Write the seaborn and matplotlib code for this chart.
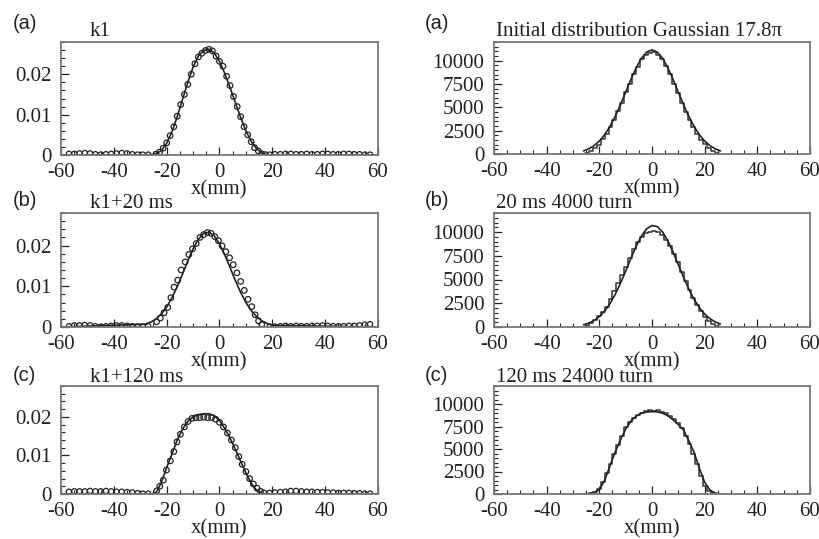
import matplotlib
matplotlib.use("Agg")
import matplotlib.pyplot as plt
import seaborn as sns
from matplotlib.ticker import MultipleLocator

# ---------------- data ----------------
panel_tags = ["(a)", "(b)", "(c)"]
left_titles = ["k1", "k1+20 ms", "k1+120 ms"]
right_titles = ["Initial distribution Gaussian 17.8\u03c0", "20 ms 4000 turn", "120 ms 24000 turn"]

# left column: measured profile (open circles) + fitted curve
L1_x = [-24.0, -22.7, -21.3, -20.0, -18.7, -17.3, -16.0, -14.7, -13.3, -12.0, -10.7, -9.3, -8.0, -6.7, -5.3,
        -4.0, -2.7, -1.3, 0.0, 1.3, 2.7, 4.0, 5.3, 6.7, 8.0, 9.3, 10.7, 12.0, 13.3, 14.7, 16.0, 17.3]
L1_y = [0.0002, 0.0007, 0.0017, 0.0030, 0.0048, 0.0070, 0.0096, 0.0125, 0.0150, 0.0175, 0.0200, 0.0226, 0.0243,
        0.0252, 0.0259, 0.0262, 0.0258, 0.0245, 0.0232, 0.0220, 0.0195, 0.0172, 0.0145, 0.0120, 0.0095, 0.0070,
        0.0050, 0.0033, 0.0018, 0.0010, 0.0003, 0.0001]
L2_x = [-23.8, -22.4, -21.0, -19.6, -18.4, -17.2, -15.8, -14.5, -13.0, -11.6, -10.2, -8.8, -7.4, -6.0, -4.6,
        -3.2, -1.8, -0.4, 1.0, 2.4, 3.8, 5.2, 6.6, 8.0, 9.4, 10.8, 12.2, 13.5, 14.8, 16.0]
L2_y = [0.0013, 0.0022, 0.0035, 0.0048, 0.0072, 0.0098, 0.0115, 0.0140, 0.0160, 0.0178, 0.0192, 0.0205, 0.0220,
        0.0227, 0.0232, 0.0230, 0.0222, 0.0212, 0.0199, 0.0185, 0.0170, 0.0153, 0.0133, 0.0112, 0.0090, 0.0068,
        0.0050, 0.0030, 0.0015, 0.0006]
L3_x = [-23.8, -22.6, -21.3, -20.1, -18.6, -17.3, -16.1, -14.8, -13.3, -11.9, -10.4, -8.9, -7.5, -6.0, -4.5,
        -3.0, -1.5, 0.0, 1.5, 3.0, 4.5, 6.0, 7.3, 8.6, 10.0, 11.4, 12.8, 14.2, 15.5, 16.8]
L3_y = [0.0008, 0.0020, 0.0036, 0.0062, 0.0086, 0.0110, 0.0135, 0.0155, 0.0174, 0.0188, 0.0196, 0.0198, 0.0198,
        0.0199, 0.0198, 0.0198, 0.0194, 0.0186, 0.0174, 0.0158, 0.0140, 0.0120, 0.0097, 0.0077, 0.0058, 0.0040,
        0.0026, 0.0015, 0.0007, 0.0003]

# background (halo) circles
BGL_x = [-57, -55, -53, -51, -49, -47, -45, -43, -41, -39, -37, -35, -33, -31, -29, -27]
BGR_x = [19, 21, 23, 25, 27, 29, 31, 33, 35, 37, 39, 41, 43, 45, 47, 49, 51, 53, 55, 57]
L1_bgl = [0.0003, 0.0003, 0.0004, 0.0005, 0.0004, 0.0002, 0.0001, 0.0002, 0.0003, 0.0004, 0.0005, 0.0004,
          0.0002, 0.0001, 0.0001, 0.0001]
L1_bgr = [0.0001, 0.0002, 0.0002, 0.0003, 0.0003, 0.0002, 0.0002, 0.0003, 0.0002, 0.0002, 0.0003, 0.0003,
          0.0002, 0.0002, 0.0003, 0.0003, 0.0002, 0.0002, 0.0001, 0.0001]
L2_bgl = [0.0002, 0.0004, 0.0004, 0.0005, 0.0004, 0.0002, 0.0001, 0.0002, 0.0003, 0.0004, 0.0004, 0.0003,
          0.0002, 0.0001, 0.0001, 0.0002]
L2_bgr = [0.0001, 0.0001, 0.0002, 0.0003, 0.0002, 0.0003, 0.0002, 0.0002, 0.0003, 0.0003, 0.0004, 0.0003,
          0.0002, 0.0002, 0.0002, 0.0003, 0.0003, 0.0004, 0.0006, 0.0007]
L3_bgl = [0.0006, 0.0007, 0.0007, 0.0007, 0.0008, 0.0007, 0.0007, 0.0008, 0.0007, 0.0006, 0.0006, 0.0005,
          0.0004, 0.0002, 0.0001, 0.0001]
L3_bgr = [0.0003, 0.0004, 0.0005, 0.0006, 0.0008, 0.0008, 0.0007, 0.0006, 0.0006, 0.0005, 0.0005, 0.0004,
          0.0004, 0.0003, 0.0003, 0.0003, 0.0002, 0.0002, 0.0001, 0.0001]

# fitted curves of the left column
FX = [-60, -28, -26, -24, -22, -20, -18, -16, -14, -12, -10, -8, -6, -4, -2, 0, 2, 4, 6, 8, 10, 12, 14, 16, 18, 20, 60]
L1_f = [0, 0, 0.0001, 0.0003, 0.0011, 0.0029, 0.0058, 0.0095, 0.0138, 0.0180, 0.0218, 0.0245, 0.0259, 0.0262,
        0.0253, 0.0232, 0.0202, 0.0167, 0.0130, 0.0093, 0.0060, 0.0034, 0.0016, 0.0005, 0.0001, 0, 0]
L2_f = [0, 0.0007, 0.0012, 0.0020, 0.0032, 0.0049, 0.0072, 0.0099, 0.0130, 0.0162, 0.0192, 0.0215, 0.0230, 0.0233,
        0.0224, 0.0204, 0.0177, 0.0146, 0.0114, 0.0085, 0.0060, 0.0040, 0.0026, 0.0015, 0.0009, 0.0004, 0]
L3_f = [0, 0, 0, 0.0003, 0.0030, 0.0068, 0.0104, 0.0140, 0.0168, 0.0188, 0.0200, 0.0206, 0.0208, 0.0208, 0.0203,
        0.0190, 0.0170, 0.0145, 0.0116, 0.0085, 0.0055, 0.0028, 0.0010, 0.0002, 0, 0, 0]

# right column: simulated histograms (bin centres, 1.5 mm bins) + fitted curves
HX = [-24.75, -23.25, -21.75, -20.25, -18.75, -17.25, -15.75, -14.25, -12.75, -11.25, -9.75, -8.25, -6.75,
      -5.25, -3.75, -2.25, -0.75, 0.75, 2.25, 3.75, 5.25, 6.75, 8.25, 9.75, 11.25, 12.75, 14.25, 15.75, 17.25,
      18.75, 20.25, 21.75, 23.25, 24.75]
R1_h = [90, 300, 600, 1000, 1600, 2100, 2900, 3600, 4600, 5450, 6600, 7500, 8600, 9350, 10200, 10600, 10850,
        10900, 10650, 10150, 9400, 8550, 7550, 6550, 5500, 4550, 3650, 2850, 2150, 1550, 1050, 650, 320, 100]
R2_h = [150, 380, 700, 1150, 1550, 2150, 2900, 3750, 4650, 5500, 6350, 7300, 8200, 8900, 9450, 9850, 10050,
        10100, 10000, 9700, 9200, 8500, 7700, 6800, 5800, 4850, 3900, 3050, 2300, 1650, 1100, 650, 330, 120]
R3_h = [20, 60, 200, 600, 1350, 2300, 3300, 4400, 5500, 6500, 7400, 8050, 8500, 8800, 9050, 9200, 9300,
        9250, 9300, 9150, 8950, 8700, 8300, 7850, 7300, 6500, 5600, 4500, 3300, 2000, 900, 350, 120, 40]
RX = [-26, -24, -22, -20, -18, -16, -14, -12, -10, -8, -6, -4, -2, 0, 2, 4, 6, 8, 10, 12, 14, 16, 18, 20, 22, 24, 26]
R1_f = [330, 555, 897, 1388, 2063, 2940, 4016, 5265, 6620, 7990, 9245, 10260, 10920, 11150, 10920, 10260, 9245,
        7990, 6620, 5265, 4016, 2940, 2063, 1388, 897, 555, 330]
R2_f = [237, 412, 686, 1095, 1670, 2443, 3420, 4582, 5883, 7230, 8507, 9586, 10343, 10685, 10570, 10012, 9080,
        7886, 6556, 5221, 3980, 2906, 2031, 1359, 871, 535, 315]
R3_f = [0, 30, 150, 500, 1500, 3100, 4650, 6000, 7200, 8100, 8650, 8980, 9120, 9150, 9130, 8980, 8700, 8250,
        7700, 7100, 5900, 4600, 2850, 1300, 450, 100, 0]

left_x = [L1_x, L2_x, L3_x]
left_y = [L1_y, L2_y, L3_y]
left_bgl = [L1_bgl, L2_bgl, L3_bgl]
left_bgr = [L1_bgr, L2_bgr, L3_bgr]
left_fit = [L1_f, L2_f, L3_f]
right_h = [R1_h, R2_h, R3_h]
right_fit = [R1_f, R2_f, R3_f]

# ---------------- style ----------------
sns.set_theme(style="ticks")
plt.rcParams['font.family'] = ['Liberation Serif', 'DejaVu Serif']
plt.rcParams['axes.unicode_minus'] = False

W, H = 820, 539
fig = plt.figure(figsize=(W / 100, H / 100), dpi=100)
FS = 15
INK = "#222222"


def add_ax(x0, y0, x1, y1):
    return fig.add_axes([x0 / W, 1 - y1 / H, (x1 - x0) / W, (y1 - y0) / H])


def style(ax, left):
    ax.set_xlim(-60, 60)
    ax.xaxis.set_major_locator(MultipleLocator(20))
    ax.xaxis.set_minor_locator(MultipleLocator(5))
    if left:
        ax.set_ylim(0, 0.028)
        ax.set_yticks([0, 0.01, 0.02])
        ax.set_yticklabels(["0", "0.01", "0.02"])
        ax.yaxis.set_minor_locator(MultipleLocator(0.002))
    else:
        ax.set_ylim(0, 12000)
        ax.set_yticks([0, 2500, 5000, 7500, 10000])
        ax.set_yticklabels(["0", "2500", "5000", "7500", "10000"])
        ax.yaxis.set_minor_locator(MultipleLocator(500))
    ax.tick_params(which="both", direction="in", top=False, right=False, colors=INK, labelsize=FS)
    ax.tick_params(which="major", length=6, width=0.9)
    ax.tick_params(which="minor", length=3, width=0.8)
    ax.tick_params(axis="x", which="both", pad=5.5)
    ax.tick_params(axis="y", which="both", pad=7)
    for s in ax.spines.values():
        s.set_visible(True)
        s.set_color("#777777")
        s.set_linewidth(1.3)
    ax.set_xlabel("x(mm)", fontsize=FS, labelpad=-1, color=INK)
    ax.set_ylabel("")
    ax.set_facecolor("white")


rows_left = [(61, 42, 378, 155), (61, 213, 378, 327), (61, 386, 378, 494)]
rows_right = [(494, 42, 810, 154), (494, 213, 810, 327), (494, 386, 810, 494)]
title_base = [36, 208, 382]
tag_base = [29, 206, 381]

edges = [HX[0] - 0.75] + [c + 0.75 for c in HX]

for i in range(3):
    # ---- left column ----
    ax = add_ax(*rows_left[i])
    sns.lineplot(x=FX, y=left_fit[i], ax=ax, color=INK, linewidth=1.2, sort=False, estimator=None)
    sns.scatterplot(x=BGL_x + BGR_x, y=left_bgl[i] + left_bgr[i], ax=ax, marker="o", s=14,
                    facecolors="none", edgecolor=INK, linewidth=0.9)
    sns.scatterplot(x=left_x[i], y=left_y[i], ax=ax, marker="o", s=16,
                    facecolors="none", edgecolor=INK, linewidth=0.9)
    style(ax, True)
    h = rows_left[i][3] - rows_left[i][1]
    ax.text(29 / (rows_left[i][2] - rows_left[i][0]), 1 + (rows_left[i][1] - title_base[i]) / h,
            left_titles[i], transform=ax.transAxes, ha="left", va="baseline", fontsize=FS, color=INK)
    fig.text(13 / W, 1 - tag_base[i] / H, panel_tags[i], family=["Liberation Sans", "DejaVu Sans"],
             fontsize=14.5, va="baseline", ha="left", color=INK)

    # ---- right column ----
    ax = add_ax(*rows_right[i])
    sns.histplot(x=HX, weights=right_h[i], bins=edges, element="step", fill=False, ax=ax,
                 color="#333333", linewidth=1.1)
    sns.lineplot(x=RX, y=right_fit[i], ax=ax, color=INK, linewidth=1.2, sort=False, estimator=None)
    style(ax, False)
    h = rows_right[i][3] - rows_right[i][1]
    ax.text(2 / (rows_right[i][2] - rows_right[i][0]), 1 + (rows_right[i][1] - title_base[i]) / h,
            right_titles[i], transform=ax.transAxes, ha="left", va="baseline", fontsize=FS, color=INK)
    fig.text(425 / W, 1 - tag_base[i] / H, panel_tags[i], family=["Liberation Sans", "DejaVu Sans"],
             fontsize=14.5, va="baseline", ha="left", color=INK)

fig.savefig("out.png", dpi=100, facecolor="white")
